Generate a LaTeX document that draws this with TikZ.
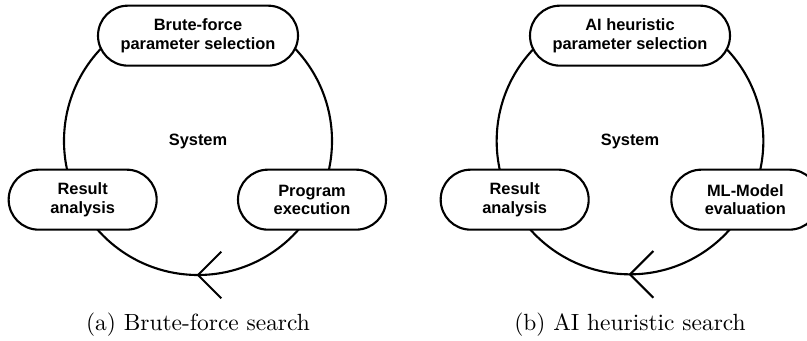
\documentclass[tikz,border=0pt]{standalone}
\usepackage{fontspec}
\newfontfamily\stagefont{Liberation Sans}
\tikzset{
    stage/.style={draw, line width=0.9pt, fill=white, rounded corners=0.45cm,
        minimum height=0.9cm, align=center,
        font=\stagefont\bfseries\fontsize{7}{7.8}\selectfont},
    sidestage/.style={stage, minimum width=2.22cm},
    topstage/.style={stage, minimum width=3cm},
    systemlabel/.style={font=\stagefont\bfseries\fontsize{7}{7.8}\selectfont},
    cycleline/.style={line width=0.9pt, black},
    subcaption/.style={font=\normalsize}
}

\begin{document}
\begin{tikzpicture}
            \useasboundingbox (-2.97,-3.0) rectangle (9.135,2.115);
            % (a) brute-force search
            \node[systemlabel] (sysA) at (0,0) {System};
            \draw[cycleline] (sysA.center) circle[radius=2.01cm];
            \coordinate (tipA) at (0,-2.01);
            \draw[cycleline] (tipA) ++(0.35,0.35) -- (tipA) -- ++(0.35,-0.35);
            \node[topstage] (selA) at (0,1.58) {Brute-force\\parameter selection};
            \node[sidestage] (resA) at (-1.73,-0.88) {Result\\analysis};
            \node[sidestage] (exeA) at (1.71,-0.88) {Program\\execution};
            \node[subcaption] (capA) at (0,-2.76) {(a) Brute-force search};
            % (b) AI heuristic search
            \node[systemlabel] (sysB) at (6.48,0) {System};
            \draw[cycleline] (sysB.center) circle[radius=2.0cm];
            \coordinate (tipB) at (6.48,-2.0);
            \draw[cycleline] (tipB) ++(0.35,0.35) -- (tipB) -- ++(0.35,-0.35);
            \node[topstage] (selB) at (6.48,1.58) {AI heuristic\\parameter selection};
            \node[sidestage] (resB) at (4.75,-0.88) {Result\\analysis};
            \node[sidestage] (evalB) at (8.21,-0.88) {ML-Model\\evaluation};
            \node[subcaption] (capB) at (6.48,-2.76) {(b) AI heuristic search};
        \end{tikzpicture}
\end{document}
